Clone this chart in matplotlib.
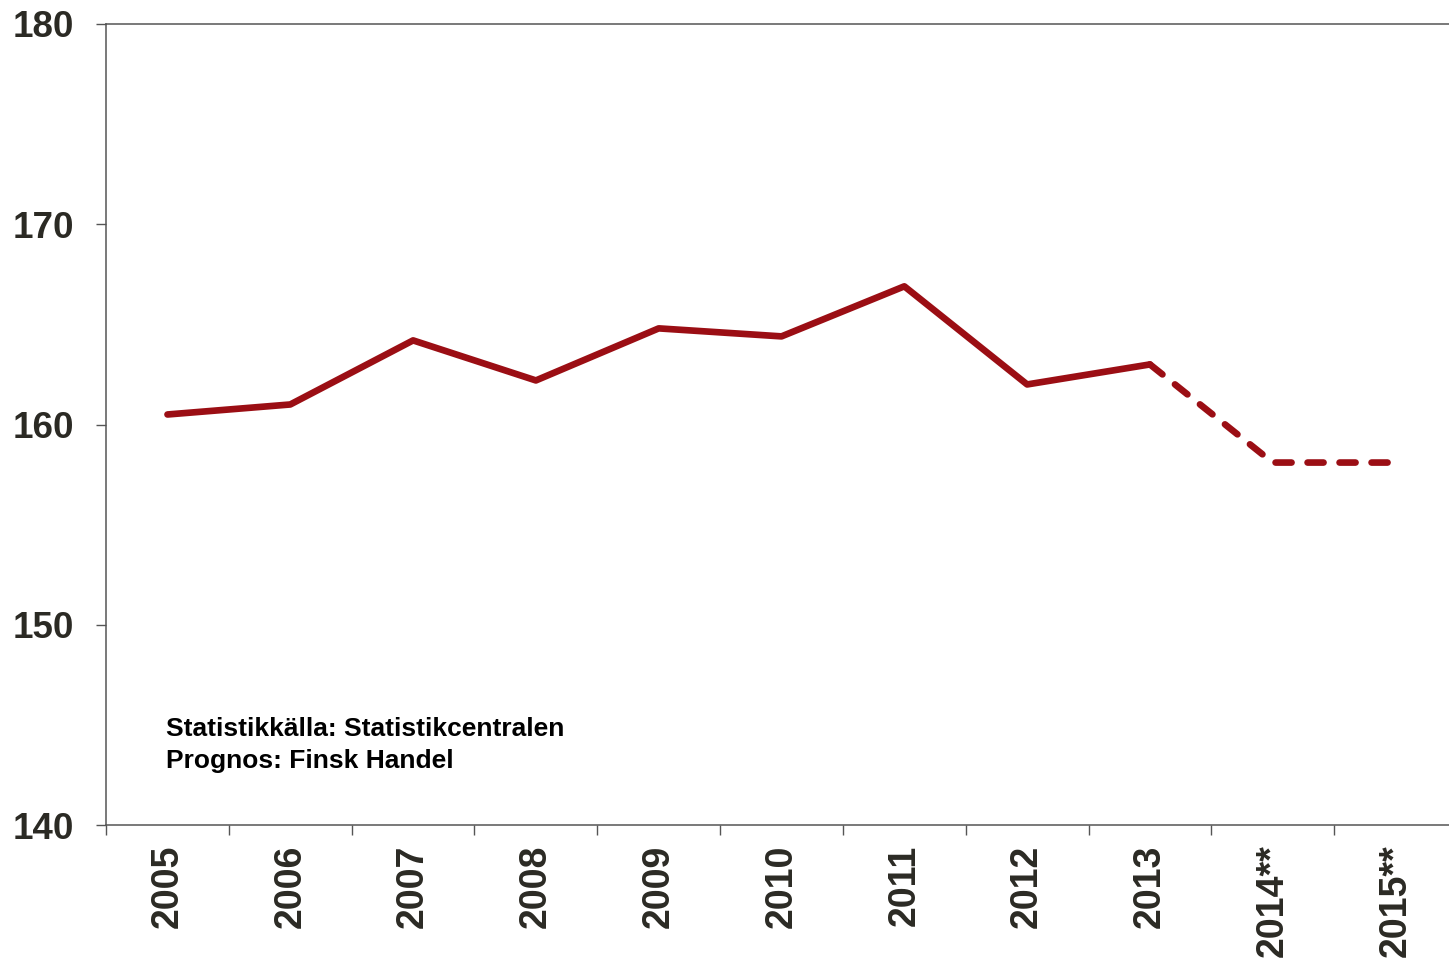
import numpy as np
import matplotlib.pyplot as plt

# data
years = ['2005', '2006', '2007', '2008', '2009', '2010', '2011', '2012', '2013', '2014**', '2015**']
actual = [160.5, 161.0, 164.2, 162.2, 164.8, 164.4, 166.9, 162.0, 163.0]
forecast = [163.0, 158.1, 158.1]   # 2013 -> 2015**, forecast part
yticks = [140, 150, 160, 170, 180]

line_col = '#9B0E14'
text_col = '#2B2A24'
spine_col = '#555555'

plt.rcParams['font.family'] = ['Liberation Sans', 'DejaVu Sans']

fig = plt.figure(figsize=(14.49, 9.59), dpi=100)
ax = fig.add_axes([0.0732, 0.1397, 0.9323, 0.8353])

x = np.arange(len(years))
ax.plot(x[:len(actual)], actual, color=line_col, lw=4.8, solid_capstyle='round',
        solid_joinstyle='round')
ax.plot(x[len(actual) - 1:], forecast, color=line_col, lw=4.8, dashes=(2.4, 2.4),
        dash_capstyle='round', dash_joinstyle='round')

ax.set_xlim(-0.5, len(years) - 0.5)
ax.set_ylim(140, 180)

# labels centred in each category, tick marks on the category boundaries
ax.set_xticks(x)
ax.set_xticklabels(years, rotation=90, fontsize=27, fontweight='bold', color=text_col)
ax.set_xticks(np.arange(-0.5, len(years)), minor=True)
ax.tick_params(axis='x', which='major', length=0, pad=14)
ax.tick_params(axis='x', which='minor', length=7, width=1, color=spine_col, direction='out')

ax.set_yticks(yticks)
ax.set_yticklabels([str(v) for v in yticks], fontsize=26.5, fontweight='bold', color=text_col)
ax.tick_params(axis='y', length=7, width=1, color=spine_col, direction='out', pad=16)

for side in ['left', 'bottom', 'top']:
    ax.spines[side].set_color(spine_col)
    ax.spines[side].set_linewidth(1.1)
ax.spines['right'].set_visible(False)

ax.text(-0.01, 144.8, 'Statistikkälla: Statistikcentralen', fontsize=19,
        fontweight='bold', color='black', ha='left', va='center')
ax.text(-0.01, 143.2, 'Prognos: Finsk Handel', fontsize=19,
        fontweight='bold', color='black', ha='left', va='center')

fig.savefig('out.png', dpi=100)
